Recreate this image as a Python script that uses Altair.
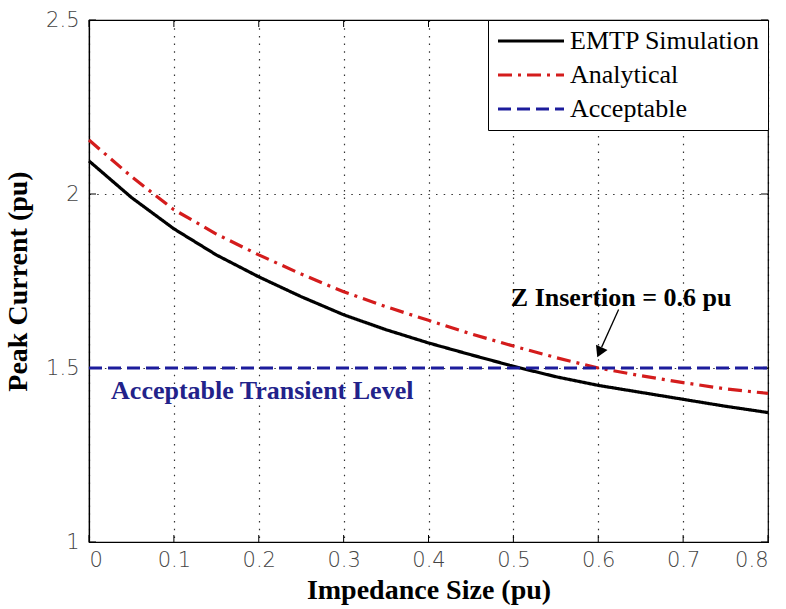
import altair as alt
import pandas as pd

# ---- data ----
impedance = [0.0, 0.05, 0.1, 0.15, 0.2, 0.25, 0.3, 0.35, 0.4, 0.45, 0.5,
             0.55, 0.6, 0.65, 0.7, 0.75, 0.8]
emtp = [2.095, 1.99, 1.90, 1.825, 1.762, 1.705, 1.653, 1.61, 1.572, 1.538, 1.505,
        1.475, 1.45, 1.43, 1.41, 1.39, 1.372]
analytical = [2.155, 2.05, 1.955, 1.885, 1.825, 1.77, 1.719, 1.676, 1.637, 1.598, 1.563,
              1.53, 1.50, 1.478, 1.458, 1.44, 1.427]
acceptable_x = [0.0, 0.8]
acceptable_y = [1.5, 1.5]

series_names = ["EMTP Simulation", "Analytical", "Acceptable"]
series_colors = ["#000000", "#d41c1c", "#1c1c9c"]
series_dash = [[1, 0], [14, 6, 3, 6], [13, 6]]
series_width = [3.2, 3.2, 2.5]

x_ticks = [0, 0.1, 0.2, 0.3, 0.4, 0.5, 0.6, 0.7, 0.8]
y_ticks = [1, 1.5, 2, 2.5]

level_text = ["Acceptable Transient Level"]
level_pos = [0.026, 1.433]
insert_text = ["Z Insertion = 0.6 pu"]
insert_pos = [0.627, 1.702]
arrow_start = [0.624, 1.668]
arrow_end = [0.604, 1.56]
arrow_tip = [0.6015, 1.545]

W, H = 679, 522
TICK = 7

rows = []
for x, y in zip(impedance, emtp):
    rows.append({"x": x, "y": y, "series": series_names[0]})
for x, y in zip(impedance, analytical):
    rows.append({"x": x, "y": y, "series": series_names[1]})
for x, y in zip(acceptable_x, acceptable_y):
    rows.append({"x": x, "y": y, "series": series_names[2]})
df = pd.DataFrame(rows)

xscale = alt.Scale(domain=[0, 0.8], nice=False, zero=False)
yscale = alt.Scale(domain=[1, 2.5], nice=False, zero=False)

lines = alt.Chart(df).mark_line().encode(
    x=alt.X("x:Q", scale=xscale,
            axis=alt.Axis(title="Impedance Size (pu)", values=x_ticks, format="~g")),
    y=alt.Y("y:Q", scale=yscale,
            axis=alt.Axis(title="Peak Current (pu)", values=y_ticks, format="~g")),
    color=alt.Color("series:N",
                    scale=alt.Scale(domain=series_names, range=series_colors),
                    legend=alt.Legend(
                        title=None, orient="top-right", offset=0,
                        strokeColor="black", fillColor="white", padding=8,
                        labelFont="Liberation Serif", labelFontSize=26, labelColor="black",
                        labelLimit=400,
                        symbolType="M-1,0H5", symbolSize=484, symbolStrokeWidth=3,
                        labelOffset=48, rowPadding=8)),
    strokeDash=alt.StrokeDash("series:N",
                              scale=alt.Scale(domain=series_names, range=series_dash),
                              legend=None),
    strokeWidth=alt.StrokeWidth("series:N",
                                scale=alt.Scale(domain=series_names, range=series_width),
                                legend=None),
)

# MATLAB-style inward tick marks on all four sides
xt = pd.DataFrame({"x": x_ticks})
yt = pd.DataFrame({"y": y_ticks})
tick_style = dict(color="black", strokeWidth=1)
xt_bottom = alt.Chart(xt).mark_rule(**tick_style).encode(
    x=alt.X("x:Q", scale=xscale), y=alt.value(H), y2=alt.value(H - TICK))
xt_top = alt.Chart(xt).mark_rule(**tick_style).encode(
    x=alt.X("x:Q", scale=xscale), y=alt.value(0), y2=alt.value(TICK))
yt_left = alt.Chart(yt).mark_rule(**tick_style).encode(
    y=alt.Y("y:Q", scale=yscale), x=alt.value(0), x2=alt.value(TICK))
yt_right = alt.Chart(yt).mark_rule(**tick_style).encode(
    y=alt.Y("y:Q", scale=yscale), x=alt.value(W), x2=alt.value(W - TICK))

level = alt.Chart(pd.DataFrame({"t": level_text, "x": [level_pos[0]], "y": [level_pos[1]]})).mark_text(
    align="left", baseline="middle", font="Liberation Serif", fontWeight="bold",
    fontSize=26, color="#22228a"
).encode(x=alt.X("x:Q", scale=xscale), y=alt.Y("y:Q", scale=yscale), text="t:N")

insert = alt.Chart(pd.DataFrame({"t": insert_text, "x": [insert_pos[0]], "y": [insert_pos[1]]})).mark_text(
    align="center", baseline="middle", font="Liberation Serif", fontWeight="bold",
    fontSize=26, color="black"
).encode(x=alt.X("x:Q", scale=xscale), y=alt.Y("y:Q", scale=yscale), text="t:N")

arrow_line = alt.Chart(pd.DataFrame({"x": [arrow_start[0]], "y": [arrow_start[1]],
                                     "x2": [arrow_end[0]], "y2": [arrow_end[1]]})).mark_rule(
    color="black", strokeWidth=1.3
).encode(x=alt.X("x:Q", scale=xscale), y=alt.Y("y:Q", scale=yscale), x2="x2:Q", y2="y2:Q")

arrow_head = alt.Chart(pd.DataFrame({"x": [arrow_tip[0]], "y": [arrow_tip[1]]})).mark_point(
    shape="triangle-up", filled=True, color="black", size=160, angle=204, opacity=1
).encode(x=alt.X("x:Q", scale=xscale), y=alt.Y("y:Q", scale=yscale))

chart = alt.layer(xt_bottom, xt_top, yt_left, yt_right,
                  lines, level, insert, arrow_line, arrow_head).properties(
    width=W, height=H,
    padding={"left": 4, "top": 9, "right": 2, "bottom": 5},
    background="white",
).configure_view(
    stroke="black", strokeWidth=1.2
).configure_axis(
    domainColor="black", domainWidth=1.2,
    grid=True, gridColor="black", gridDash=[1.5, 6.2], gridOpacity=0.8, gridWidth=1.2,
    ticks=False, tickSize=0,
    labelFont="DejaVu Sans", labelFontSize=21, labelFontWeight=300, labelColor="#444444",
    titleFont="Liberation Serif", titleFontWeight="bold", titleFontSize=28, titleColor="black",
).configure_axisX(
    labelPadding=7, titlePadding=6,
).configure_axisY(
    labelPadding=10, titlePadding=13,
)

chart.save("out.html", embed_options={"renderer": "svg", "actions": False})
